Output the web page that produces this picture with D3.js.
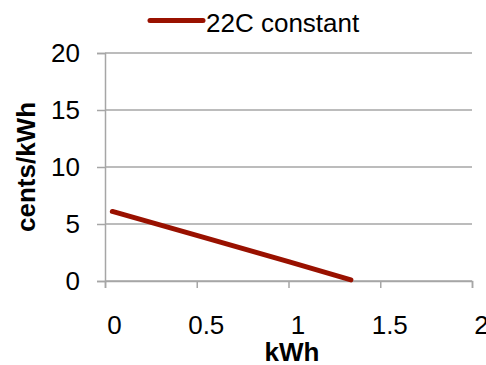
<!DOCTYPE html>
<html>
<head>
<meta charset="utf-8">
<script src="https://cdn.jsdelivr.net/npm/d3@7"></script>
<style>
  html, body { margin: 0; padding: 0; background: #fff; overflow: hidden; }
  svg text { font-family: "Liberation Sans", Arial, sans-serif; fill: #000; }
</style>
</head>
<body>
<svg id="chart" width="486" height="365"></svg>
<script>
// Price per kWh vs. energy, constant 22C setpoint
const seriesName = "22C constant";
const kwh = [0.04, 0.5, 1.0, 1.34];
const cents = [6.1, 4.0, 1.7, 0.1];
const xTicks = [0, 0.5, 1, 1.5, 2];
const yTicks = [0, 5, 10, 15, 20];

const svg = d3.select("#chart");
const plot = { left: 105, right: 472, top: 53, bottom: 281 };
const fontSize = 26;

const x = d3.scaleLinear().domain([0, 2]).range([plot.left, plot.right]);
const y = d3.scaleLinear().domain([0, 20]).range([plot.bottom, plot.top]);

const gridColor = "#a6a6a6";
const seriesColor = "#991100";

// horizontal gridlines
svg.append("g")
  .selectAll("line")
  .data(yTicks)
  .join("line")
  .attr("x1", plot.left).attr("x2", plot.right)
  .attr("y1", d => y(d)).attr("y2", d => y(d))
  .attr("stroke", gridColor).attr("stroke-width", 1.5);

// y axis
const yAxis = svg.append("g")
  .attr("transform", `translate(${plot.left},0)`)
  .call(d3.axisLeft(y).tickValues(yTicks).tickSize(8).tickPadding(17).tickFormat(d3.format("d")));
yAxis.select(".domain").attr("stroke", gridColor).attr("stroke-width", 1.5);
yAxis.selectAll(".tick line").attr("stroke", gridColor).attr("stroke-width", 1.5);
yAxis.selectAll(".tick text").attr("font-size", fontSize)
  .attr("font-family", "Liberation Sans, Arial, sans-serif").attr("fill", "#000");

// x axis
const xAxis = svg.append("g")
  .attr("transform", `translate(0,${plot.bottom})`)
  .call(d3.axisBottom(x).tickValues(xTicks).tickSize(7).tickPadding(28).tickFormat(d => String(d)));
xAxis.select(".domain").attr("stroke", gridColor).attr("stroke-width", 1.5);
xAxis.selectAll(".tick line").attr("stroke", gridColor).attr("stroke-width", 1.5);
xAxis.selectAll(".tick text").attr("font-size", fontSize).attr("dx", 9)
  .attr("font-family", "Liberation Sans, Arial, sans-serif").attr("fill", "#000");

// series line
const line = d3.line().x((d, i) => x(kwh[i])).y(d => y(d));
svg.append("path")
  .datum(cents)
  .attr("d", line)
  .attr("fill", "none")
  .attr("stroke", seriesColor)
  .attr("stroke-width", 5)
  .attr("stroke-linecap", "round");

// legend
svg.append("line")
  .attr("x1", 150).attr("x2", 203).attr("y1", 20.5).attr("y2", 20.5)
  .attr("stroke", seriesColor).attr("stroke-width", 5).attr("stroke-linecap", "round");
svg.append("text")
  .attr("x", 206).attr("y", 32)
  .attr("font-size", fontSize)
  .text(seriesName);

// axis titles
svg.append("text")
  .attr("x", 292).attr("y", 361)
  .attr("text-anchor", "middle")
  .attr("font-size", fontSize).attr("font-weight", "bold")
  .text("kWh");
svg.append("text")
  .attr("transform", "translate(35,167) rotate(-90)")
  .attr("text-anchor", "middle")
  .attr("font-size", fontSize).attr("font-weight", "bold")
  .text("cents/kWh");
</script>
</body>
</html>
